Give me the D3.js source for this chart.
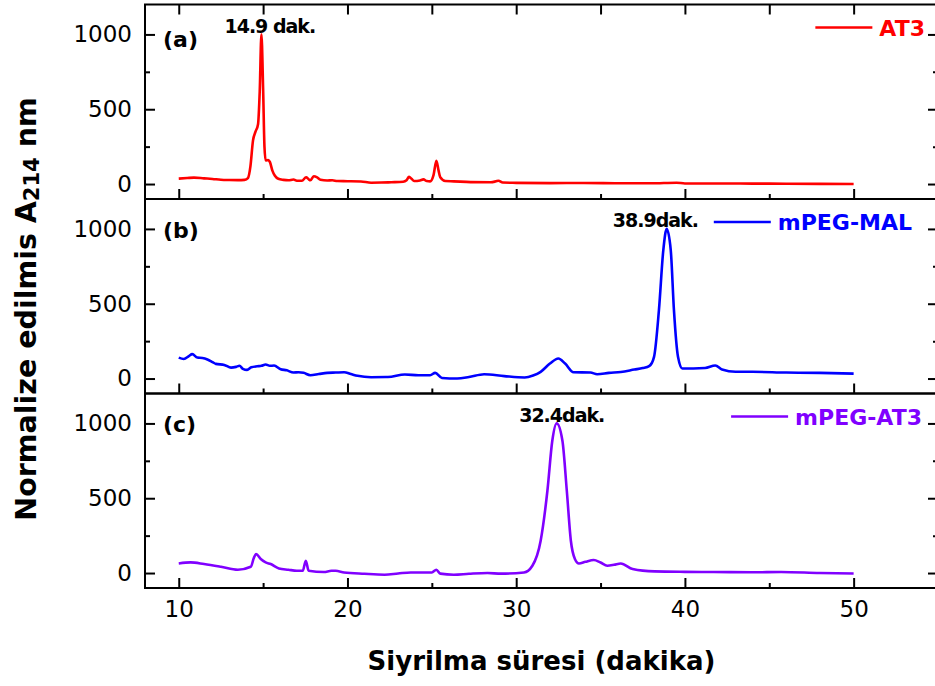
<!DOCTYPE html>
<html>
<head>
<meta charset="utf-8">
<script src="https://cdn.jsdelivr.net/npm/d3@7"></script>
<style>
  body { margin: 0; background: #fff; }
  svg text { font-family: "DejaVu Sans", sans-serif; }
</style>
</head>
<body>
<div id="chart"></div>
<script>
// chromatogram traces, [time (min), normalized A214]
var at3 = [[10,36],[10.5,40],[10.9,43],[11.5,38],[12,34],[12.5,29],[13,27],[13.5,26],[13.9,28],[14.1,40],[14.25,120],[14.4,290],
  [14.55,350],[14.7,400],[14.8,620],[14.9,1000],[15.0,640],[15.08,250],[15.15,158],[15.3,160],[15.4,148],[15.55,90],[15.7,55],
  [15.9,35],[16.2,28],[16.5,25],[16.8,30],[17.0,22],[17.3,22],[17.55,45],[17.7,32],[17.8,25],[18.0,52],[18.2,45],[18.4,29],
  [18.8,24],[19.1,25],[19.4,20],[20,19],[20.8,17],[21.4,9],[22,10],[22.6,12],[23.3,15],[23.5,25],[23.65,48],[23.8,35],
  [23.95,20],[24.3,24],[24.5,31],[24.7,20],[24.9,18],[25.1,60],[25.27,155],[25.4,90],[25.5,45],[25.8,20],[26.3,18],[27.3,13],
  [28.5,12],[28.8,18],[28.95,22],[29.2,10],[30,8],[32,6],[34,7],[36,5],[38,5],[39.5,9],[40,4],[42,4],[44,3],[46,2],[48,1],[50,0]];

var mpegMal = [[10,140],[10.3,131],[10.6,150],[10.8,163],[11.1,140],[11.4,137],[11.7,127],[12,110],[12.2,98],[12.7,91],[13.1,73],
  [13.4,78],[13.6,85],[13.8,65],[14.05,58],[14.3,75],[14.65,82],[14.9,85],[15.15,94],[15.4,85],[15.65,87],[16.04,62],[16.4,55],
  [16.8,40],[17.1,42],[17.4,38],[17.8,22],[18.3,30],[18.8,38],[19.3,40],[19.8,42],[20.2,30],[20.6,18],[21.4,9],[22.4,10],
  [23.4,27],[24.2,22],[24.9,22],[25.2,38],[25.6,4],[26.5,0],[27.2,10],[28.1,29],[29.3,16],[30.5,7],[31,20],[31.45,45],[32,100],
  [32.5,134],[32.9,100],[33.4,42],[34.4,40],[34.8,29],[35.5,38],[36.2,44],[37.0,60],[37.5,70],[37.9,85],[38.17,145],[38.46,457],
  [38.72,859],[38.92,1000],[39.16,859],[39.35,457],[39.59,145],[39.85,67],[40.5,67],[41.2,70],[41.8,87],[42.2,60],[43,45],
  [44,45],[46,40],[48,38],[50,33]];

var mpegAt3 = [[10,64],[10.7,71],[11.5,60],[12.5,42],[13.5,22],[14.27,42],[14.45,100],[14.58,127],[14.86,94],[15.15,71],[15.45,60],
  [15.94,31],[16.5,22],[17,15],[17.35,15],[17.53,82],[17.7,15],[18.6,7],[19.05,15],[19.3,15],[19.8,4],[21,-5],[22.2,-11],[23,-3],
  [23.75,4],[25,4],[25.27,22],[25.5,-4],[26.3,-11],[27.2,-5],[28.3,0],[29.1,-4],[30.46,4],[30.96,49],[31.45,216],[31.85,550],
  [32.14,884],[32.4,1000],[32.74,884],[33.0,550],[33.24,216],[33.48,94],[33.72,64],[34.1,75],[34.6,87],[35,70],[35.4,49],
  [35.8,55],[36.2,64],[36.9,27],[38.2,11],[40,8],[41.7,7],[44,5],[45.7,7],[48,0],[50,-3]];

var seriesNames = ["AT3", "mPEG-MAL", "mPEG-AT3"];
var panelLabels = ["(a)", "(b)", "(c)"];
var peakLabels = ["14.9 dak.", "38.9dak.", "32.4dak."];
var peakLabelX = [15.4, 38.25, 32.7];
var xTicks = [10, 20, 30, 40, 50];
var xMinor = [15, 25, 35, 45];
var yTicks = [0, 500, 1000];
var yMinor = [250, 750];

var colors = ["#ff0000", "#0000ff", "#8000ff"];
var traces = [at3, mpegMal, mpegAt3];

var W = 935, H = 686;
var left = 145, right = 938;
var panelTops = [4.5, 199, 393.5], panelH = 194.5;
var legendRight = [925, 912, 922];

var svg = d3.select("#chart").append("svg")
  .attr("width", W).attr("height", H);

var x = d3.scaleLinear().domain([8, 55]).range([left, right]);

traces.forEach(function(data, i) {
  var top = panelTops[i], bottom = top + panelH;
  var y = d3.scaleLinear().domain([-100, 1200]).range([bottom, top]);
  var g = svg.append("g");

  // frame
  g.append("rect").attr("x", left).attr("y", top)
    .attr("width", right - left).attr("height", panelH)
    .attr("fill", "none").attr("stroke", "#000").attr("stroke-width", 2);

  // bottom ticks
  g.append("g").attr("transform", "translate(0," + bottom + ")")
    .call(d3.axisBottom(x).tickValues(xTicks).tickSize(-10).tickSizeOuter(0).tickPadding(13)
      .tickFormat(i == 2 ? d3.format("d") : ""));
  g.append("g").attr("transform", "translate(0," + bottom + ")")
    .call(d3.axisBottom(x).tickValues(xMinor).tickSize(-5).tickSizeOuter(0).tickFormat(""));
  if (i == 0) {
    g.append("g").attr("transform", "translate(0," + top + ")")
      .call(d3.axisTop(x).tickValues(xTicks.concat(xMinor)).tickSize(-10).tickSizeOuter(0).tickFormat(""));
  }

  // left / right ticks
  g.append("g").attr("transform", "translate(" + left + ",0)")
    .call(d3.axisLeft(y).tickValues(yTicks).tickSize(-10).tickSizeOuter(0).tickPadding(13)
      .tickFormat(d3.format("d")));
  g.append("g").attr("transform", "translate(" + left + ",0)")
    .call(d3.axisLeft(y).tickValues(yMinor).tickSize(-5).tickSizeOuter(0).tickFormat(""));
  g.append("g").attr("transform", "translate(" + right + ",0)")
    .call(d3.axisRight(y).tickValues(yTicks).tickSize(-10).tickSizeOuter(0).tickFormat(""));
  g.append("g").attr("transform", "translate(" + right + ",0)")
    .call(d3.axisRight(y).tickValues(yMinor).tickSize(-5).tickSizeOuter(0).tickFormat(""));

  // trace
  var line = d3.line().x(function(d) { return x(d[0]); }).y(function(d) { return y(d[1]); })
    .curve(d3.curveMonotoneX);
  g.append("path").datum(data).attr("d", line)
    .attr("fill", "none").attr("stroke", colors[i]).attr("stroke-width", 2.6)
    .attr("stroke-linejoin", "round");

  // panel label
  g.append("text").attr("x", 163).attr("y", y(i == 0 ? 915 : 940))
    .attr("font-size", 22).attr("font-weight", "bold").text(panelLabels[i]);

  // peak label
  g.append("text").attr("x", x(peakLabelX[i])).attr("y", y(1012))
    .attr("text-anchor", "middle").attr("font-size", 19).attr("font-weight", "bold")
    .attr("letter-spacing", "-1px").text(peakLabels[i]);

  // legend
  var lg = g.append("g").attr("transform", "translate(" + legendRight[i] + "," + (top + 23) + ")");
  var lt = lg.append("text").attr("x", 0).attr("y", 8).attr("text-anchor", "end")
    .attr("font-size", 22).attr("font-weight", "bold").attr("fill", colors[i]).text(seriesNames[i]);
  var tw = lt.node().getComputedTextLength();
  lg.append("line").attr("x1", -tw - 64).attr("x2", -tw - 7).attr("y1", 0).attr("y2", 0)
    .attr("stroke", colors[i]).attr("stroke-width", 2.6);
});

svg.selectAll(".domain").remove();
svg.selectAll(".tick line").attr("stroke", "#000").attr("stroke-width", 2);
svg.selectAll(".tick text").attr("font-size", 23).attr("fill", "#000");

// axis titles
svg.append("text").attr("x", (left + right) / 2).attr("y", 670)
  .attr("text-anchor", "middle").attr("font-size", 26).attr("font-weight", "bold")
  .text("Siyrilma süresi (dakika)");

var yt = svg.append("text").attr("transform", "translate(36,309) rotate(-90)")
  .attr("text-anchor", "middle").attr("font-size", 28.5).attr("font-weight", "bold");
yt.append("tspan").text("Normalize edilmis A");
yt.append("tspan").attr("font-size", 21).attr("dy", 3).text("214");
yt.append("tspan").attr("dy", -3).text(" nm");
</script>
</body>
</html>
